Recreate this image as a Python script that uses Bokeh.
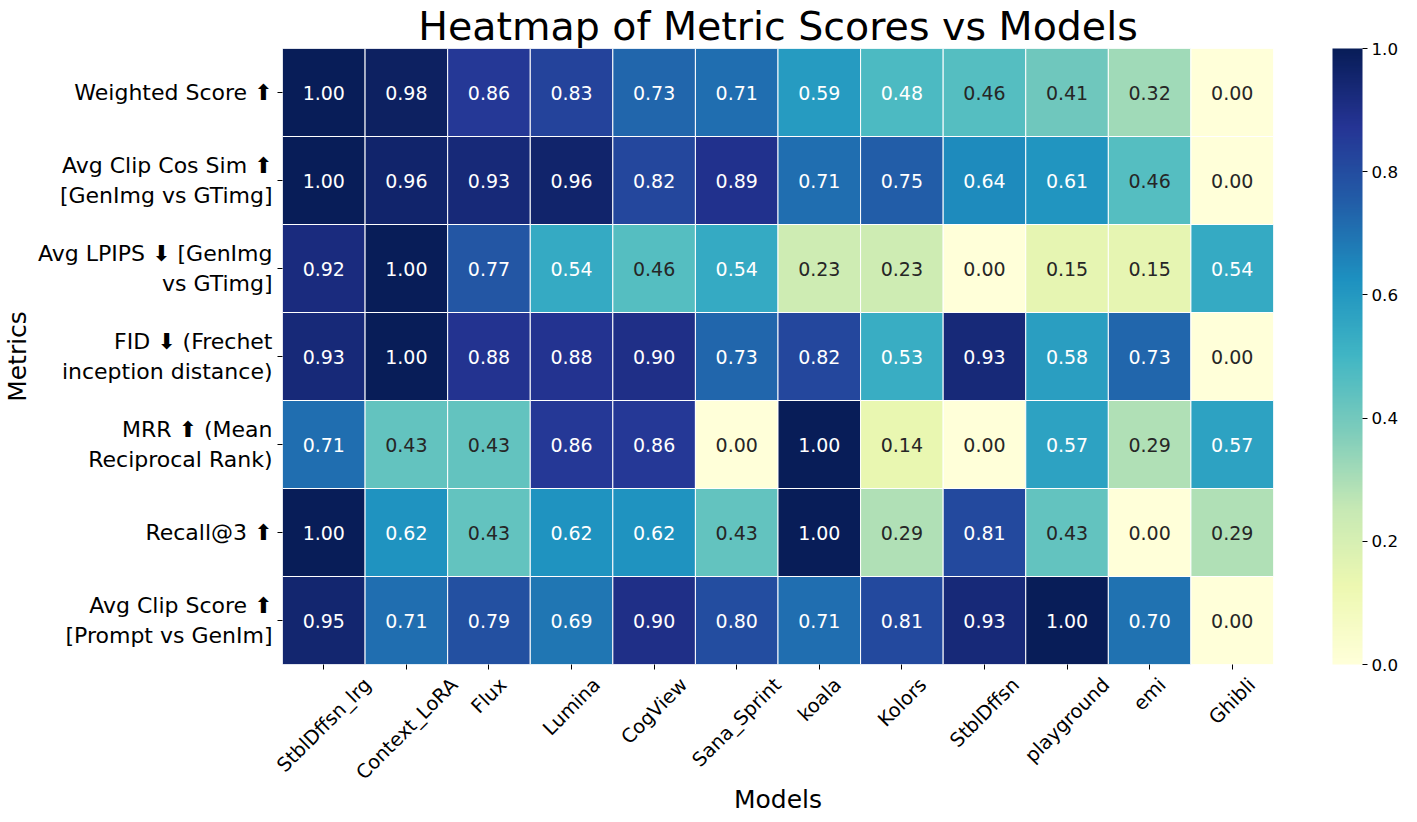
import math
from bokeh.plotting import figure
from bokeh.models import (ColumnDataSource, LinearColorMapper, ColorBar, FixedTicker,
                          PrintfTickFormatter, LinearAxis, Range1d)
from bokeh.core.properties import value
from bokeh.embed import file_html
from bokeh.resources import INLINE

# ---------------- data ----------------
models = ["StblDffsn_lrg", "Context_LoRA", "Flux", "Lumina", "CogView", "Sana_Sprint",
          "koala", "Kolors", "StblDffsn", "playground", "emi", "Ghibli"]

metrics = [
    "Weighted Score \u2b06",
    "Avg Clip Cos Sim \u2b06\n[GenImg vs GTimg]",
    "Avg LPIPS \u2b07 [GenImg\nvs GTimg]",
    "FID \u2b07 (Frechet\ninception distance)",
    "MRR \u2b06 (Mean\nReciprocal Rank)",
    "Recall@3 \u2b06",
    "Avg Clip Score \u2b06\n[Prompt vs GenIm]",
]

weighted_score = [1.00, 0.98, 0.86, 0.83, 0.73, 0.71, 0.59, 0.48, 0.46, 0.41, 0.32, 0.00]
avg_clip_cos_sim = [1.00, 0.96, 0.93, 0.96, 0.82, 0.89, 0.71, 0.75, 0.64, 0.61, 0.46, 0.00]
avg_lpips = [0.92, 1.00, 0.77, 0.54, 0.46, 0.54, 0.23, 0.23, 0.00, 0.15, 0.15, 0.54]
fid = [0.93, 1.00, 0.88, 0.88, 0.90, 0.73, 0.82, 0.53, 0.93, 0.58, 0.73, 0.00]
mrr = [0.71, 0.43, 0.43, 0.86, 0.86, 0.00, 1.00, 0.14, 0.00, 0.57, 0.29, 0.57]
recall_at_3 = [1.00, 0.62, 0.43, 0.62, 0.62, 0.43, 1.00, 0.29, 0.81, 0.43, 0.00, 0.29]
avg_clip_score = [0.95, 0.71, 0.79, 0.69, 0.90, 0.80, 0.71, 0.81, 0.93, 1.00, 0.70, 0.00]

rows = [weighted_score, avg_clip_cos_sim, avg_lpips, fid, mrr, recall_at_3, avg_clip_score]

colorbar_ticks = [0.0, 0.2, 0.4, 0.6, 0.8, 1.0]

# ---------------- style helpers ----------------
FONT = "DejaVu Sans"
YLGNBU9 = ["#ffffd9", "#edf8b1", "#c7e9b4", "#7fcdbb", "#41b6c4",
           "#1d91c0", "#225ea8", "#253494", "#081d58"]


def hex2rgb(h):
    h = h.lstrip("#")
    return tuple(int(h[i:i + 2], 16) for i in (0, 2, 4))


def build_palette(n=256):
    stops = [hex2rgb(c) for c in YLGNBU9]
    out = []
    for k in range(n):
        t = k / (n - 1) * (len(stops) - 1)
        i = min(int(t), len(stops) - 2)
        f = t - i
        rgb = tuple(int(round(stops[i][j] + (stops[i + 1][j] - stops[i][j]) * f)) for j in range(3))
        out.append("#%02x%02x%02x" % rgb)
    return out


PALETTE = build_palette()


def color_for(v):
    idx = min(max(int(v * len(PALETTE)), 0), len(PALETTE) - 1)
    return PALETTE[idx]


def luminance(hexcol):
    rgb = [c / 255.0 for c in hex2rgb(hexcol)]
    lin = [c / 12.92 if c <= 0.03928 else ((c + 0.055) / 1.055) ** 2.4 for c in rgb]
    return 0.2126 * lin[0] + 0.7152 * lin[1] + 0.0722 * lin[2]


# approximate DejaVu Sans advance widths (em) -> used to centre rotated labels like matplotlib
ADV = {"S": .635, "t": .392, "b": .635, "l": .278, "D": .770, "f": .352, "s": .521,
       "n": .634, "_": .500, "r": .411, "g": .635, "C": .698, "o": .612, "e": .615,
       "x": .592, "L": .557, "R": .695, "A": .684, "F": .575, "u": .634, "m": .974,
       "i": .278, "a": .613, "V": .684, "w": .818, "p": .635, "k": .579, "K": .656,
       "y": .592, "d": .635, "G": .775, "h": .634, "c": .550}


def text_width(s, fs):
    return sum(ADV.get(ch, 0.6) for ch in s) * fs


# ---------------- source ----------------
n = len(models)
col_center = {m: i + 0.5 for i, m in enumerate(models)}   # column slot of each model
xs, ys, vals, labels, tcolors = [], [], [], [], []
for metric, row in zip(metrics, rows):
    for model, v in zip(models, row):
        xs.append(col_center[model])
        ys.append(metric)
        vals.append(v)
        labels.append("%.2f" % v)
        tcolors.append("#262626" if luminance(color_for(v)) > 0.408 else "#ffffff")

src = ColumnDataSource(dict(x=xs, y=ys, v=vals, label=labels, tc=tcolors))

mapper = LinearColorMapper(palette=PALETTE, low=0.0, high=1.0)

FRAME_W, FRAME_H = 991, 616
p = figure(x_range=Range1d(0, n), y_range=list(reversed(metrics)),
           frame_width=FRAME_W, frame_height=FRAME_H, x_axis_location=None,
           min_border_left=279, min_border_top=40, min_border_bottom=10, min_border_right=10,
           output_backend="svg", toolbar_location=None, tools="")

p.rect(x="x", y="y", width=1, height=1, source=src,
       fill_color={"field": "v", "transform": mapper},
       line_color="white", line_width=1)

p.text(x="x", y="y", text="label", source=src, text_color="tc",
       text_align="center", text_baseline="middle",
       text_font=value(FONT), text_font_size="19px")

# title
p.title.text = "Heatmap of Metric Scores vs Models"
p.title.align = "center"
p.title.text_font = FONT
p.title.text_font_size = "39.5px"
p.title.text_font_style = "normal"
p.title.text_color = "black"
p.title.standoff = 0

# y axis
ya = p.yaxis[0]
ya.axis_line_color = None
ya.major_tick_out = 5
ya.major_tick_in = 0
ya.major_tick_line_color = "black"
ya.minor_tick_line_color = None
ya.major_label_standoff = 5
ya.major_label_text_font = FONT
ya.major_label_text_font_size = "22px"
ya.major_label_text_color = "black"
ya.axis_label = "Metrics"
ya.axis_label_text_font = FONT
ya.axis_label_text_font_style = "normal"
ya.axis_label_text_font_size = "25px"
ya.axis_label_text_color = "black"
ya.axis_label_standoff = 3

p.grid.grid_line_color = None
p.outline_line_color = None

# x axes: one carries the tick marks, one carries the rotated model names
tick_pos = [col_center[m] for m in models]
tick_axis = LinearAxis(ticker=FixedTicker(ticks=tick_pos, minor_ticks=[]),
                       formatter=PrintfTickFormatter(format=""),
                       major_tick_out=5, major_tick_in=0, major_tick_line_color="black",
                       minor_tick_line_color=None, axis_line_color=None,
                       major_label_standoff=0, major_label_text_font_size="1px")
p.add_layout(tick_axis, "below")

XFS = 19.4
col_px = FRAME_W / n
label_pos = [col_center[m] + text_width(m, XFS) / (2 * math.sqrt(2)) / col_px for m in models]
label_axis = LinearAxis(ticker=FixedTicker(ticks=label_pos, minor_ticks=[]),
                        major_label_overrides={t: m for t, m in zip(label_pos, models)},
                        major_label_orientation=math.pi / 4,
                        major_tick_out=0, major_tick_in=0, major_tick_line_color=None,
                        minor_tick_line_color=None, axis_line_color=None,
                        major_label_standoff=12, major_label_text_font=FONT,
                        major_label_text_font_size="%.1fpx" % XFS, major_label_text_color="black",
                        axis_label="Models", axis_label_text_font=FONT,
                        axis_label_text_font_style="normal", axis_label_text_font_size="25px",
                        axis_label_text_color="black", axis_label_standoff=-10)
p.add_layout(label_axis, "below")

cb = ColorBar(color_mapper=mapper, width=30, height=FRAME_H,
              ticker=FixedTicker(ticks=colorbar_ticks),
              formatter=PrintfTickFormatter(format="%.1f"),
              major_tick_out=5, major_tick_in=0, major_tick_line_color="black",
              minor_tick_line_color=None, label_standoff=4,
              major_label_text_font=FONT, major_label_text_font_size="16.7px",
              major_label_text_color="black",
              bar_line_color=None, border_line_color=None,
              location=(59, 0), margin=0, padding=0, background_fill_color="white")
p.add_layout(cb, "right")

open("out.html", "w").write(file_html(p, INLINE))
